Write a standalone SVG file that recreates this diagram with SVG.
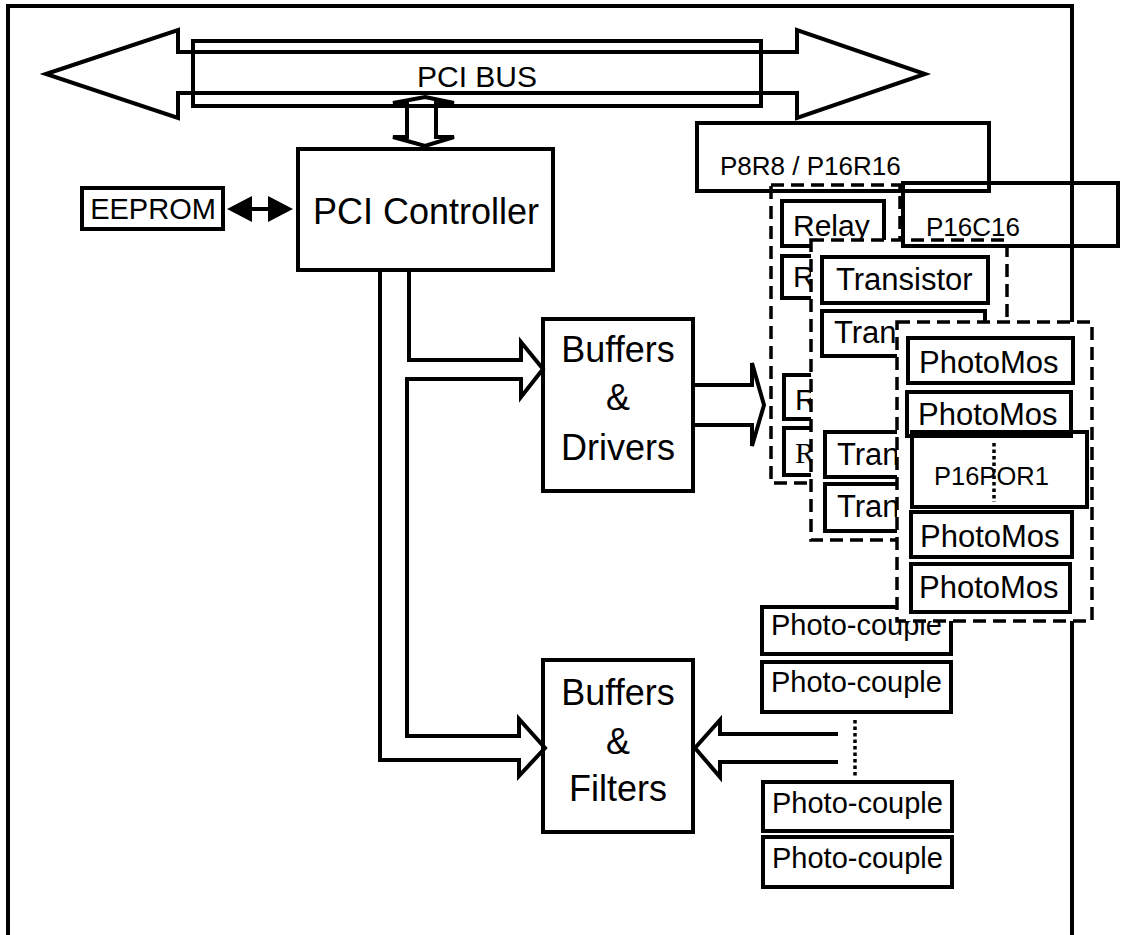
<svg xmlns="http://www.w3.org/2000/svg" width="1124" height="935" viewBox="0 0 1124 935">
<defs>
<style>
.ln{fill:none;stroke:#000;stroke-width:4;stroke-linejoin:miter}
.bx{fill:#fff;stroke:#000;stroke-width:4}
.ob{fill:none;stroke:#000;stroke-width:4}
.ds{fill:#fff;stroke:#000;stroke-width:3.5;stroke-dasharray:13 7}
.dot{fill:none;stroke:#000;stroke-width:3.5;stroke-dasharray:3.5 3}
text{font-family:"Liberation Sans",Arial,sans-serif;fill:#000}
.c{text-anchor:middle}
</style>
</defs>
<rect width="1124" height="935" fill="#fff"/>
<g id="frame"><path class="ln" stroke-width="3" d="M8,935 V6 H1072 V935"/></g>

<g id="pci-bus">
<polygon class="ln" points="46,74 178,30 178,52 797,52 797,30 925,74 797,118 797,93 178,93 178,118"/>
<rect class="ob" x="193" y="41" width="568" height="65"/>
<text class="c" x="477" y="87" font-size="30">PCI BUS</text>
</g>

<g id="eeprom">
<rect class="bx" x="82" y="188" width="141" height="41"/>
<text class="c" x="153" y="219" font-size="29">EEPROM</text>
</g>

<g id="pci-controller">
<rect class="bx" x="298" y="149" width="255" height="121"/>
<text class="c" x="426" y="224" font-size="36">PCI Controller</text>
</g>

<g id="buffers-drivers">
<rect class="bx" x="543" y="319" width="150" height="172"/>
<text class="c" x="618" y="362" font-size="36">Buffers</text>
<text class="c" x="618" y="410" font-size="36">&amp;</text>
<text class="c" x="618" y="460" font-size="36">Drivers</text>
</g>

<g id="buffers-filters">
<rect class="bx" x="543" y="660" width="150" height="172"/>
<text class="c" x="618" y="705" font-size="36">Buffers</text>
<text class="c" x="618" y="754" font-size="36">&amp;</text>
<text class="c" x="618" y="801" font-size="36">Filters</text>
</g>

<g id="connectors">
<polygon class="ln" points="425,97 454,103 436,103 436,137 454,137 425,146 393,137 407,137 407,103 393,103"/>
<line x1="250" y1="209" x2="270" y2="209" stroke="#000" stroke-width="4"/>
<polygon points="227,209 252,196 252,222" fill="#000"/>
<polygon points="293,209 268,196 268,222" fill="#000"/>
<path class="ln" d="M409,270 V360 H521 V342 L543,369 L521,397 V379 H407 V736 H519 V719 L545,748 L519,776 V760 H380 V270"/>
<path class="ln" d="M693,385 H752 V363 L764,405 L752,446 V425 H693"/>
<path class="ln" d="M838,734 H720 V720 L695,748 L720,777 V762 H838"/>
</g>

<g id="photo-couples">
<rect class="bx" x="762" y="607" width="189" height="47"/>
<text x="771" y="635" font-size="29">Photo-couple</text>
<rect class="bx" x="762" y="662" width="189" height="50"/>
<text x="771" y="692" font-size="29">Photo-couple</text>
<line class="dot" x1="855" y1="720" x2="855" y2="778"/>
<rect class="bx" x="763" y="782" width="189" height="49"/>
<text x="772" y="813" font-size="29">Photo-couple</text>
<rect class="bx" x="763" y="837" width="189" height="50"/>
<text x="772" y="868" font-size="29">Photo-couple</text>
</g>

<g id="p8r8-p16r16">
<rect class="ds" x="771" y="185" width="129" height="298"/>
<rect class="bx" x="782" y="201" width="102" height="45"/>
<text x="793" y="236" font-size="30">Relay</text>
<rect class="bx" x="782" y="256" width="102" height="42"/>
<text x="793" y="287" font-size="30">R</text>
<rect class="bx" x="784" y="375" width="100" height="44"/>
<text x="795" y="410" font-size="30">R</text>
<rect class="bx" x="784" y="428" width="100" height="47"/>
<text x="795" y="463" font-size="30" style="font-family:'Liberation Serif','Times New Roman',serif">R</text>
<rect class="ob" x="697" y="123" width="292" height="68"/>
<text x="720" y="175" font-size="26">P8R8 / P16R16</text>
</g>

<g id="p16c16">
<rect class="ds" x="811" y="240" width="196" height="300"/>
<rect class="bx" x="822" y="257" width="166" height="46"/>
<text x="836" y="290" font-size="31">Transistor</text>
<rect class="bx" x="822" y="311" width="163" height="45"/>
<text x="834" y="343" font-size="31">Tran</text>
<rect class="bx" x="825" y="432" width="160" height="45"/>
<text x="837" y="465" font-size="31">Tran</text>
<rect class="bx" x="825" y="484" width="160" height="47"/>
<text x="837" y="517" font-size="31">Tran</text>
<rect class="ob" x="903" y="183" width="215" height="63"/>
<text x="926" y="236" font-size="26">P16C16</text>
</g>

<g id="p16por16">
<rect class="ds" x="897" y="322" width="195" height="299"/>
<rect class="bx" x="908" y="338" width="165" height="45"/>
<text x="919" y="373" font-size="31">PhotoMos</text>
<rect class="ob" x="907" y="392" width="164" height="44"/>
<text x="918" y="425" font-size="31">PhotoMos</text>
<line class="dot" x1="994" y1="443" x2="994" y2="502"/>
<rect class="ob" x="912" y="432" width="175" height="75"/>
<text x="934" y="485" font-size="25.5">P16POR1</text>
<rect class="bx" x="911" y="512" width="161" height="45"/>
<text x="920" y="547" font-size="31">PhotoMos</text>
<rect class="bx" x="911" y="564" width="159" height="48"/>
<text x="919" y="598" font-size="31">PhotoMos</text>
</g>
</svg>
